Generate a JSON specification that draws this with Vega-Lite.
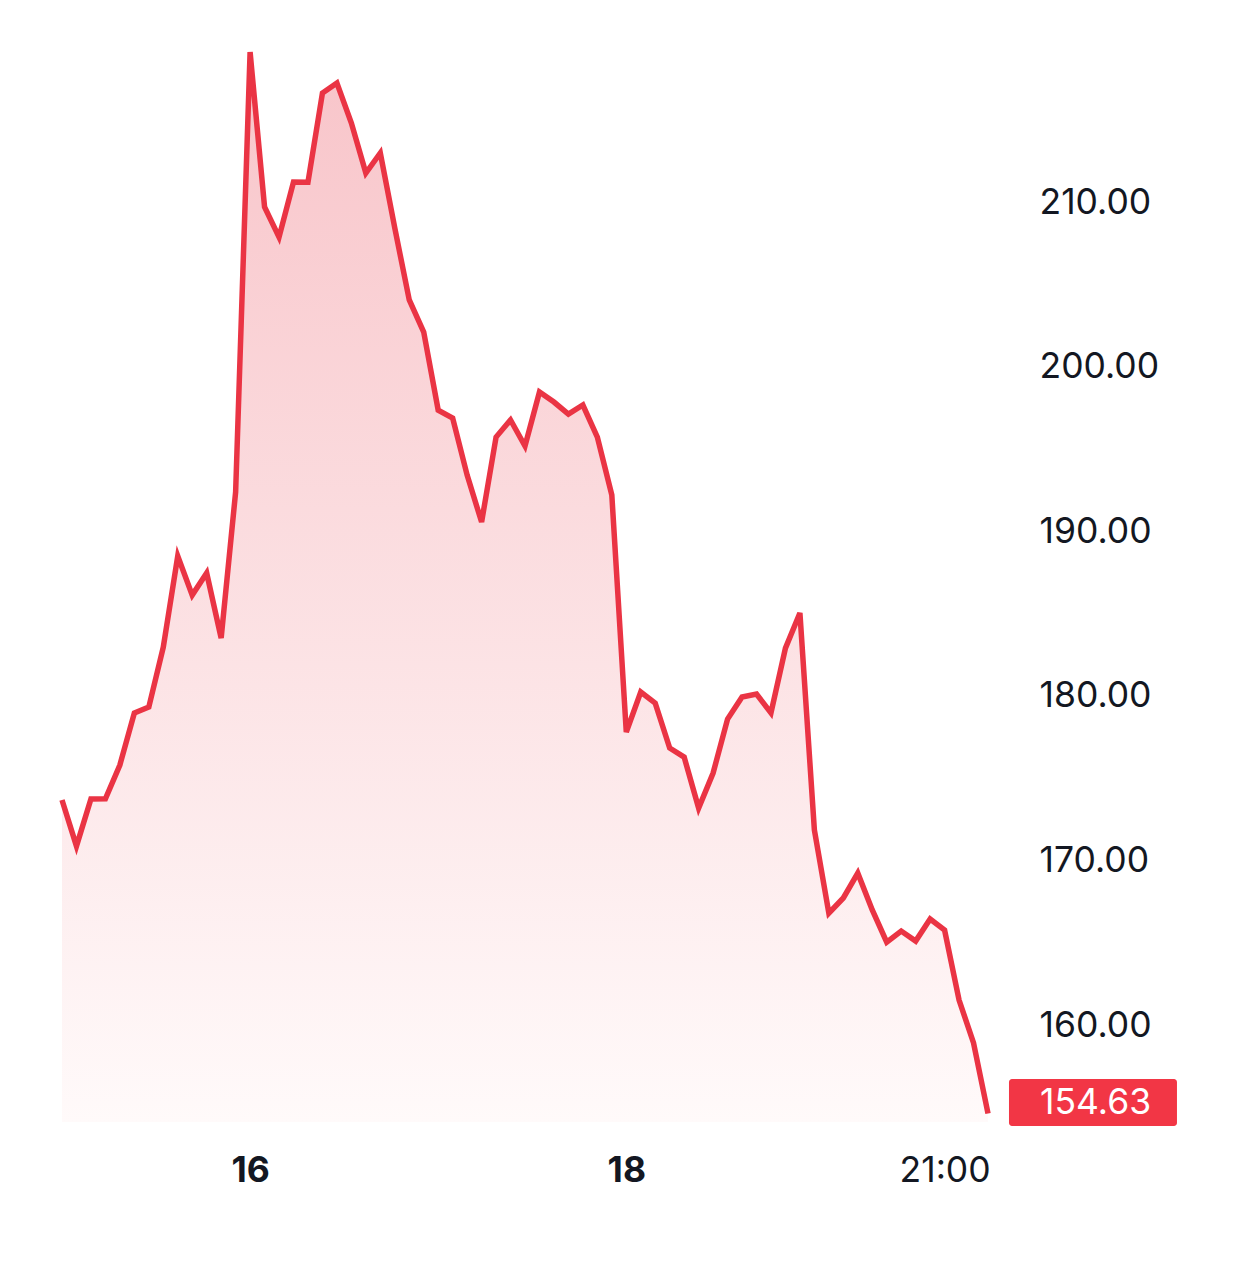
{
  "$schema": "https://vega.github.io/schema/vega-lite/v6.json",
  "autosize": {"type": "none"},
  "padding": {"left": 62, "top": 20, "right": 244, "bottom": 158},
  "width": 948,
  "height": 1102,
  "background": "#ffffff",
  "config": {
    "view": {"stroke": null},
    "font": "Inter",
    "axis": {"labelFont": "Inter", "labelColor": "#131722", "labelFontSize": 35.5, "zindex": 1}
  },
  "data": {
    "values": [
      {"i": 0, "v": 173.67}, {"i": 1, "v": 170.87}, {"i": 2, "v": 173.73}, {"i": 3, "v": 173.75},
      {"i": 4, "v": 175.8}, {"i": 5, "v": 178.96}, {"i": 6, "v": 179.32}, {"i": 7, "v": 182.96},
      {"i": 8, "v": 188.49}, {"i": 9, "v": 186.12}, {"i": 10, "v": 187.46}, {"i": 11, "v": 183.51},
      {"i": 12, "v": 192.38}, {"i": 13, "v": 219.11}, {"i": 14, "v": 209.7}, {"i": 15, "v": 207.87},
      {"i": 16, "v": 211.22}, {"i": 17, "v": 211.2}, {"i": 18, "v": 216.62}, {"i": 19, "v": 217.23},
      {"i": 20, "v": 214.8}, {"i": 21, "v": 211.76}, {"i": 22, "v": 212.98}, {"i": 23, "v": 208.42},
      {"i": 24, "v": 204.05}, {"i": 25, "v": 202.1}, {"i": 26, "v": 197.36}, {"i": 27, "v": 196.88},
      {"i": 28, "v": 193.41}, {"i": 29, "v": 190.56}, {"i": 30, "v": 195.72}, {"i": 31, "v": 196.76},
      {"i": 32, "v": 195.18}, {"i": 33, "v": 198.46}, {"i": 34, "v": 197.85}, {"i": 35, "v": 197.12},
      {"i": 36, "v": 197.67}, {"i": 37, "v": 195.72}, {"i": 38, "v": 192.2}, {"i": 39, "v": 177.8},
      {"i": 40, "v": 180.23}, {"i": 41, "v": 179.56}, {"i": 42, "v": 176.83}, {"i": 43, "v": 176.28},
      {"i": 44, "v": 173.18}, {"i": 45, "v": 175.31}, {"i": 46, "v": 178.59}, {"i": 47, "v": 179.93},
      {"i": 48, "v": 180.11}, {"i": 49, "v": 178.96}, {"i": 50, "v": 182.9}, {"i": 51, "v": 185.03},
      {"i": 52, "v": 171.85}, {"i": 53, "v": 166.8}, {"i": 54, "v": 167.72}, {"i": 55, "v": 169.23},
      {"i": 56, "v": 166.99}, {"i": 57, "v": 165.04}, {"i": 58, "v": 165.71}, {"i": 59, "v": 165.1},
      {"i": 60, "v": 166.44}, {"i": 61, "v": 165.77}, {"i": 62, "v": 161.52}, {"i": 63, "v": 158.91},
      {"i": 64, "v": 154.63}
    ]
  },
  "encoding": {
    "x": {
      "field": "i",
      "type": "quantitative",
      "scale": {"domain": [0, 65.52], "nice": false, "zero": false},
      "axis": {
        "title": null,
        "values": [13, 39, 61],
        "labelExpr": "datum.value == 13 ? '16' : datum.value == 39 ? '18' : '21:00'",
        "labelFontWeight": {"condition": {"test": "datum.value == 61", "value": "normal"}, "value": "bold"},
        "domain": false,
        "ticks": false,
        "grid": false,
        "labelPadding": 31
      }
    },
    "y": {
      "field": "v",
      "type": "quantitative",
      "scale": {"domain": [154.11, 221.06], "nice": false, "zero": false},
      "axis": {
        "title": null,
        "orient": "right",
        "values": [160, 170, 180, 190, 200, 210],
        "format": ".2f",
        "domain": false,
        "ticks": false,
        "grid": false,
        "labelPadding": 29
      }
    }
  },
  "layer": [
    {
      "mark": {
        "type": "area",
        "color": {
          "gradient": "linear",
          "x1": 0, "y1": 0, "x2": 0, "y2": 1,
          "stops": [
            {"offset": 0, "color": "#f8c4c9"},
            {"offset": 1, "color": "#fffafa"}
          ]
        }
      },
      "encoding": {"y2": {"datum": 154.11}}
    },
    {
      "mark": {"type": "line", "color": "#ea3444", "strokeWidth": 5.5}
    },
    {
      "transform": [{"filter": "datum.i == 64"}],
      "mark": {"type": "rect", "color": "#f23645", "cornerRadius": 3, "clip": false},
      "encoding": {
        "x": {"datum": 65.45},
        "x2": {"datum": 77.06},
        "y": {"datum": 156.72},
        "y2": {"datum": 153.86}
      }
    },
    {
      "transform": [{"filter": "datum.i == 64"}],
      "mark": {"type": "text", "color": "#ffffff", "font": "Inter", "fontSize": 35.5, "align": "left", "baseline": "middle", "clip": false},
      "encoding": {
        "x": {"datum": 67.6},
        "y": {"datum": 155.26},
        "text": {"field": "v", "type": "quantitative", "format": ".2f"}
      }
    }
  ]
}
